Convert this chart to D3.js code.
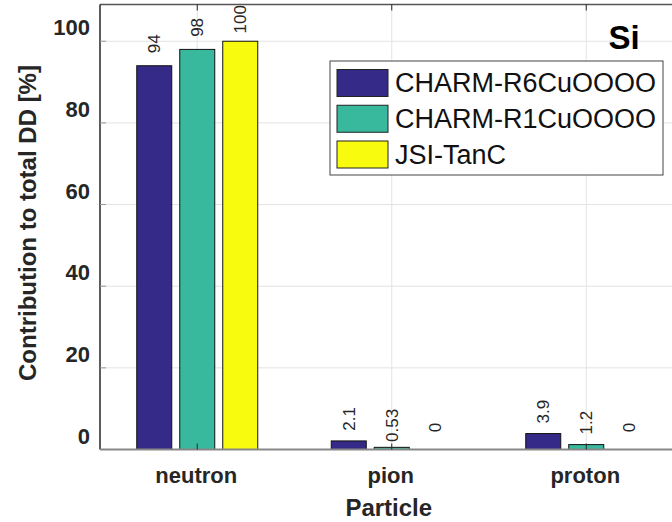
<!DOCTYPE html>
<html>
<head>
<meta charset="utf-8">
<script src="https://cdn.jsdelivr.net/npm/d3@7"></script>
<style>
  body { margin: 0; background: #fff; }
  svg { display: block; font-family: "Liberation Sans", Arial, sans-serif; }
</style>
</head>
<body>
<div id="chart"></div>
<script>
// data
const particles = ['neutron', 'pion', 'proton'];
const series = ['CHARM-R6CuOOOO', 'CHARM-R1CuOOOO', 'JSI-TanC'];
const r6Values = [94, 2.1, 3.9];
const r1Values = [98, 0.53, 1.2];
const tanValues = [100, 0, 0];
const r6Labels = ['94', '2.1', '3.9'];
const r1Labels = ['98', '0.53', '1.2'];
const tanLabels = ['100', '0', '0'];
const yTicks = [0, 20, 40, 60, 80, 100];
const colors = ['#352a87', '#38b99e', '#f9fb0e'];

const values = [r6Values, r1Values, tanValues];
const labels = [r6Labels, r1Labels, tanLabels];

const W = 672, H = 522;
const axLeft = 100, axTop = 4.5, axBottom = 449.5, axRight = 683.5;

let svg = d3.select('#chart').append('svg')
    .attr('width', W)
    .attr('height', H);

let x = d3.scaleBand().domain(particles).range([axLeft, axRight]);
let xSub = d3.scalePoint().domain(series).range([-43, 43]);
let y = d3.scaleLinear().domain([0, 109]).range([axBottom, axTop]);
const barW = 35;
const cx = p => x(p) + x.bandwidth() / 2;

// grid
svg.append('g')
    .selectAll('line')
    .data(yTicks.filter(d => d > 0))
    .enter().append('line')
        .attr('x1', axLeft).attr('x2', W)
        .attr('y1', d => y(d)).attr('y2', d => y(d))
        .attr('stroke', '#e3e3e3');
svg.append('g')
    .selectAll('line')
    .data(particles)
    .enter().append('line')
        .attr('x1', d => cx(d)).attr('x2', d => cx(d))
        .attr('y1', axTop).attr('y2', axBottom)
        .attr('stroke', '#e3e3e3');

// bars
let rows = [];
series.forEach((s, si) => {
    particles.forEach((p, pi) => {
        rows.push({ s, si, p, v: values[si][pi], label: labels[si][pi] });
    });
});

svg.append('g')
    .selectAll('rect')
    .data(rows)
    .enter().append('rect')
        .attr('x', d => cx(d.p) + xSub(d.s) - barW / 2)
        .attr('y', d => y(d.v))
        .attr('width', barW)
        .attr('height', d => axBottom - y(d.v))
        .attr('fill', d => colors[d.si])
        .attr('stroke', '#111')
        .attr('stroke-width', 1);

// value labels, rotated
svg.append('g')
    .selectAll('text')
    .data(rows)
    .enter().append('text')
        .attr('transform', d => `translate(${cx(d.p) + xSub(d.s)},${y(d.v) - 22})rotate(-90)`)
        .attr('text-anchor', 'middle')
        .attr('dy', '0.35em')
        .attr('font-size', 17)
        .attr('fill', '#262626')
        .text(d => d.label);

// axes lines and ticks
svg.append('line')
    .attr('x1', axLeft).attr('x2', W).attr('y1', axTop).attr('y2', axTop)
    .attr('stroke', '#555').attr('stroke-width', 1.5);
svg.append('line')
    .attr('x1', axLeft).attr('x2', axLeft).attr('y1', axTop).attr('y2', axBottom)
    .attr('stroke', '#262626').attr('stroke-width', 1.5);
svg.append('line')
    .attr('x1', axLeft).attr('x2', W).attr('y1', axBottom).attr('y2', axBottom)
    .attr('stroke', '#888').attr('stroke-width', 2);

svg.append('g')
    .selectAll('line')
    .data(yTicks.filter(d => d > 0))
    .enter().append('line')
        .attr('x1', axLeft).attr('x2', axLeft + 6)
        .attr('y1', d => y(d)).attr('y2', d => y(d))
        .attr('stroke', '#999');
svg.append('g')
    .selectAll('g')
    .data(particles)
    .enter().append('g')
    .each(function (d) {
        let g = d3.select(this);
        g.append('line').attr('x1', cx(d)).attr('x2', cx(d))
            .attr('y1', axTop).attr('y2', axTop + 6).attr('stroke', '#262626');
        g.append('line').attr('x1', cx(d)).attr('x2', cx(d))
            .attr('y1', axBottom - 6).attr('y2', axBottom).attr('stroke', '#262626');
    });

// tick labels
svg.append('g')
    .selectAll('text')
    .data(yTicks)
    .enter().append('text')
        .attr('x', 90)
        .attr('y', d => y(d) - 13.5)
        .attr('dy', '0.35em')
        .attr('text-anchor', 'end')
        .attr('font-size', 22)
        .attr('font-weight', 'bold')
        .attr('fill', '#262626')
        .text(d => d);

svg.append('g')
    .selectAll('text')
    .data(particles)
    .enter().append('text')
        .attr('x', d => cx(d) - 1)
        .attr('y', 475)
        .attr('dy', '0.35em')
        .attr('text-anchor', 'middle')
        .attr('font-size', 22)
        .attr('font-weight', 'bold')
        .attr('fill', '#262626')
        .text(d => d);

// axis titles
svg.append('text')
    .attr('x', (axLeft + axRight) / 2 - 3)
    .attr('y', 508)
    .attr('dy', '0.35em')
    .attr('text-anchor', 'middle')
    .attr('font-size', 24)
    .attr('font-weight', 'bold')
    .attr('fill', '#262626')
    .text('Particle');

svg.append('text')
    .attr('transform', `translate(28,${(axTop + axBottom) / 2 - 4})rotate(-90)`)
    .attr('dy', '0.35em')
    .attr('text-anchor', 'middle')
    .attr('font-size', 24)
    .attr('font-weight', 'bold')
    .attr('fill', '#262626')
    .text('Contribution to total DD [%]');

// material tag
svg.append('text')
    .attr('x', 624)
    .attr('y', 37)
    .attr('dy', '0.35em')
    .attr('text-anchor', 'middle')
    .attr('font-size', 33)
    .attr('font-weight', 'bold')
    .attr('fill', '#000')
    .text('Si');

// legend
let legend = svg.append('g');
legend.append('rect')
    .attr('x', 330).attr('y', 61)
    .attr('width', 333).attr('height', 114)
    .attr('fill', '#fff')
    .attr('stroke', '#444');
let items = legend.selectAll('g')
    .data(series)
    .enter().append('g')
        .attr('transform', (d, i) => `translate(337,${83 + i * 35.75})`);
items.append('rect')
    .attr('x', 0).attr('y', -13.5)
    .attr('width', 51).attr('height', 27)
    .attr('fill', (d, i) => colors[i])
    .attr('stroke', '#222');
items.append('text')
    .attr('x', 58)
    .attr('dy', '0.35em')
    .attr('font-size', 27)
    .attr('fill', '#111')
    .text(d => d);
</script>
</body>
</html>
